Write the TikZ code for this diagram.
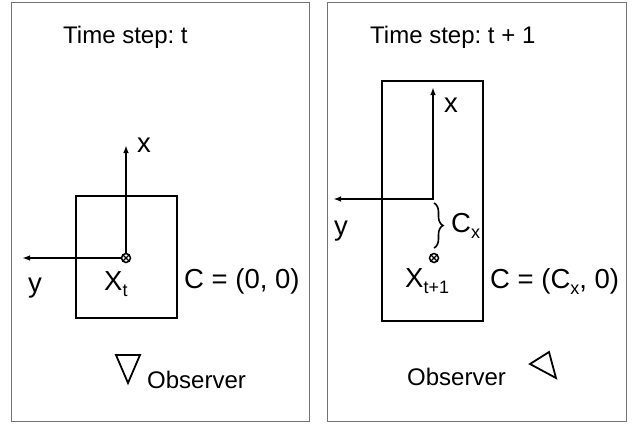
\documentclass[tikz,border=0pt]{standalone}
\usepackage{fontspec}
\setmainfont{Liberation Sans}
\usetikzlibrary{arrows.meta,decorations.pathreplacing}
\newcommand\mysubtxt[1]{\raisebox{-6.5pt}{\fontsize{18}{18}\selectfont #1}}
\frenchspacing
\begin{document}
\begin{tikzpicture}[x=1pt,y=-1pt,
 lbl/.style={inner sep=0pt, anchor=base west, font=\fontsize{24}{28}\selectfont},
 biglbl/.style={inner sep=0pt, anchor=base west, font=\fontsize{27.5}{30}\selectfont},
 panel/.style={draw=black!55, line width=1pt},
 framebox/.style={draw, line width=2.2pt, inner sep=0pt},
 axis/.style={line width=2pt, -{Latex[length=8pt,width=5.5pt]}},
 originpt/.style={circle, draw, line width=1.5pt, minimum size=9pt, inner sep=0pt,
   path picture={\draw[line width=1.1pt]
     (path picture bounding box.north west) -- (path picture bounding box.south east)
     (path picture bounding box.north east) -- (path picture bounding box.south west);}},
 observer/.style={line width=1.8pt, line join=miter},
 bracest/.style={line width=1.6pt, decorate, decoration={brace, amplitude=9pt}}]
\useasboundingbox (0,0) rectangle (633,424);
\fill[white] (0,0) rectangle (633,424);
% panels
\draw[panel] (11,2.5) rectangle (309,421.5);
\draw[panel] (327,2.5) rectangle (626,421.5);

% ---------- left panel ----------
\node[lbl] (title1) at (63,43) {Time step: t};
\node[framebox, minimum width=101pt, minimum height=122pt] (box1) at (126.5,257) {};
\node[originpt] (o1) at (126,258) {};
\coordinate (xtip1) at (126,145);
\coordinate (ytip1) at (22,258);
\draw[axis] (o1) -- (xtip1);
\draw[axis] (o1) -- (ytip1);
\node[biglbl] (xl1) at (137,152) {x};
\node[biglbl] (yl1) at (28,292) {y};
\node[biglbl] (X1) at (104,290) {X\mysubtxt{t}};
\node[biglbl] (C1) at (184,288) {C = (0, 0)};
\draw[observer] (116,355) -- (140,355) -- (128,383) -- cycle;
\node[lbl] (obs1) at (147,388) {Observer};

% ---------- right panel ----------
\node[lbl] (title2) at (370,43) {Time step: t + 1};
\node[framebox, minimum width=101pt, minimum height=240pt] (box2) at (432.5,201) {};
\coordinate (corner2) at (433,199);
\coordinate (xtip2) at (433,87);
\coordinate (ytip2) at (333,199);
\draw[axis, {Latex[length=8pt,width=5.5pt]}-{Latex[length=8pt,width=5.5pt]}, line join=miter] (ytip2) -- (corner2) -- (xtip2);
\node[biglbl] (xl2) at (444,112) {x};
\node[biglbl] (yl2) at (334,235) {y};
\coordinate (brtop) at (434,203);
\coordinate (brbot) at (434,248);
\draw[bracest] (brtop) -- (brbot);
\node[biglbl] (cx) at (451,232) {C\mysubtxt{x}};
\node[originpt] (o2) at (434,258) {};
\node[biglbl] (X2) at (405,287) {X\mysubtxt{t+1}};
\node[biglbl] (C2) at (490,288) {C = (C\mysubtxt{x}, 0)};
\draw[observer] (530,364) -- (549,352) -- (556,378) -- cycle;
\node[lbl] (obs2) at (407,385) {Observer};
\end{tikzpicture}
\end{document}
